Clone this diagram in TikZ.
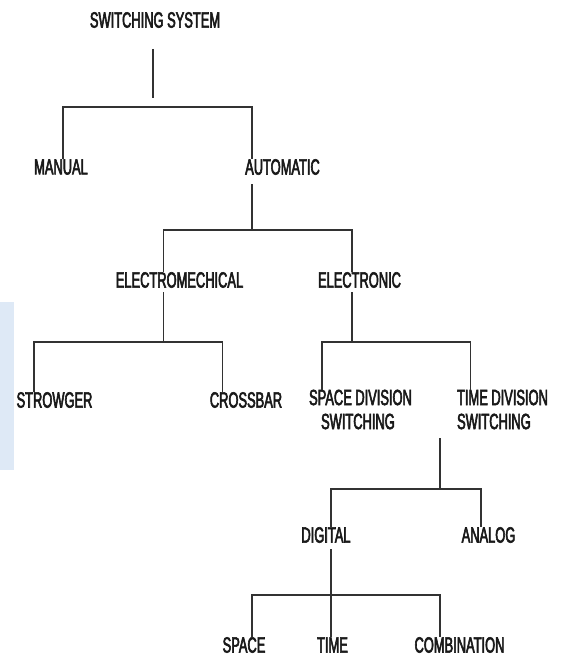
\documentclass[tikz,border=0pt]{standalone}
\usepackage{fontspec}
\setmainfont{Liberation Sans}[FakeStretch=0.585,FakeBold=2.6]
\definecolor{txt}{RGB}{25,25,25}
\definecolor{ln}{RGB}{50,50,50}
\definecolor{paleblue}{RGB}{222,233,246}
\begin{document}
\begin{tikzpicture}[x=1pt,y=-1pt,
  lbl/.style={inner sep=0pt,outer sep=0pt,text=txt,font=\fontsize{22}{24}\selectfont},
  conn/.style={draw=ln,line width=1.3pt}]
\useasboundingbox (0,0) rectangle (561,655);
\fill[paleblue] (0,302) rectangle (14,470);
% nodes
\node[lbl] (sys) at (155,20) {SWITCHING SYSTEM};
\node[lbl] (manual) at (61,167) {MANUAL};
\node[lbl] (auto) at (282.5,167) {AUTOMATIC};
\node[lbl] (emech) at (179.5,280) {ELECTROMECHICAL};
\node[lbl] (elec) at (359.5,280) {ELECTRONIC};
\node[lbl] (strow) at (54.5,400) {STROWGER};
\node[lbl] (cross) at (246,400) {CROSSBAR};
\node[lbl,align=left] (sds) at (360.5,409.5) {SPACE DIVISION\\\hspace*{12pt}SWITCHING};
\node[lbl,align=left] (tds) at (502.5,409.5) {TIME DIVISION\\SWITCHING};
\node[lbl] (digital) at (326,535) {DIGITAL};
\node[lbl] (analog) at (488.5,535) {ANALOG};
\node[lbl] (space) at (244,645) {SPACE};
\node[lbl] (time) at (332.5,645) {TIME};
\node[lbl] (comb) at (459.5,645) {COMBINATION};
% junction coordinates
\coordinate (s0) at (153,49);
\coordinate (s1) at (153,98);
\coordinate (j1l) at (63,107);
\coordinate (j1r) at (252,107);
\coordinate (a0) at (252,184);
\coordinate (j2l) at (163.5,230);
\coordinate (j2r) at (352,230);
\coordinate (m0) at (163.5,292);
\coordinate (j3l) at (34,342);
\coordinate (j3m) at (163.5,342);
\coordinate (j3r) at (222.5,342);
\coordinate (e0) at (352,292);
\coordinate (j4l) at (322,342);
\coordinate (j4m) at (352,342);
\coordinate (j4r) at (470.5,342);
\coordinate (t0) at (440,438);
\coordinate (j5l) at (331,489);
\coordinate (j5m) at (440,489);
\coordinate (j5r) at (481,489);
\coordinate (d0) at (331,549);
\coordinate (j6l) at (252,595);
\coordinate (j6m) at (331,595);
\coordinate (j6r) at (440,595);
% connectors
\draw[conn] (s0) -- (s1);
\draw[conn] (j1l |- manual.north) -- (j1l) -- (j1r) -- (j1r |- auto.north);
\draw[conn] (a0) -- (j1r |- j2l);
\draw[conn] (j2l |- emech.north) -- (j2l) -- (j2r) -- (j2r |- elec.north);
\draw[conn] (m0) -- (j3m);
\draw[conn] (j3l |- strow.north) -- (j3l) -- (j3r) -- (j3r |- cross.north);
\draw[conn] (e0) -- (j4m);
\draw[conn] (j4l |- sds.north) -- (j4l) -- (j4r) -- (j4r |- tds.north);
\draw[conn] (t0) -- (j5m);
\draw[conn] (j5l |- digital.north) -- (j5l) -- (j5r) -- (j5r |- analog.north);
\draw[conn] (d0) -- (j6m);
\draw[conn] (j6l |- space.north) -- (j6l) -- (j6r) -- (j6r |- comb.north);
\draw[conn] (j6m) -- (j6m |- time.north);
\end{tikzpicture}
\end{document}
